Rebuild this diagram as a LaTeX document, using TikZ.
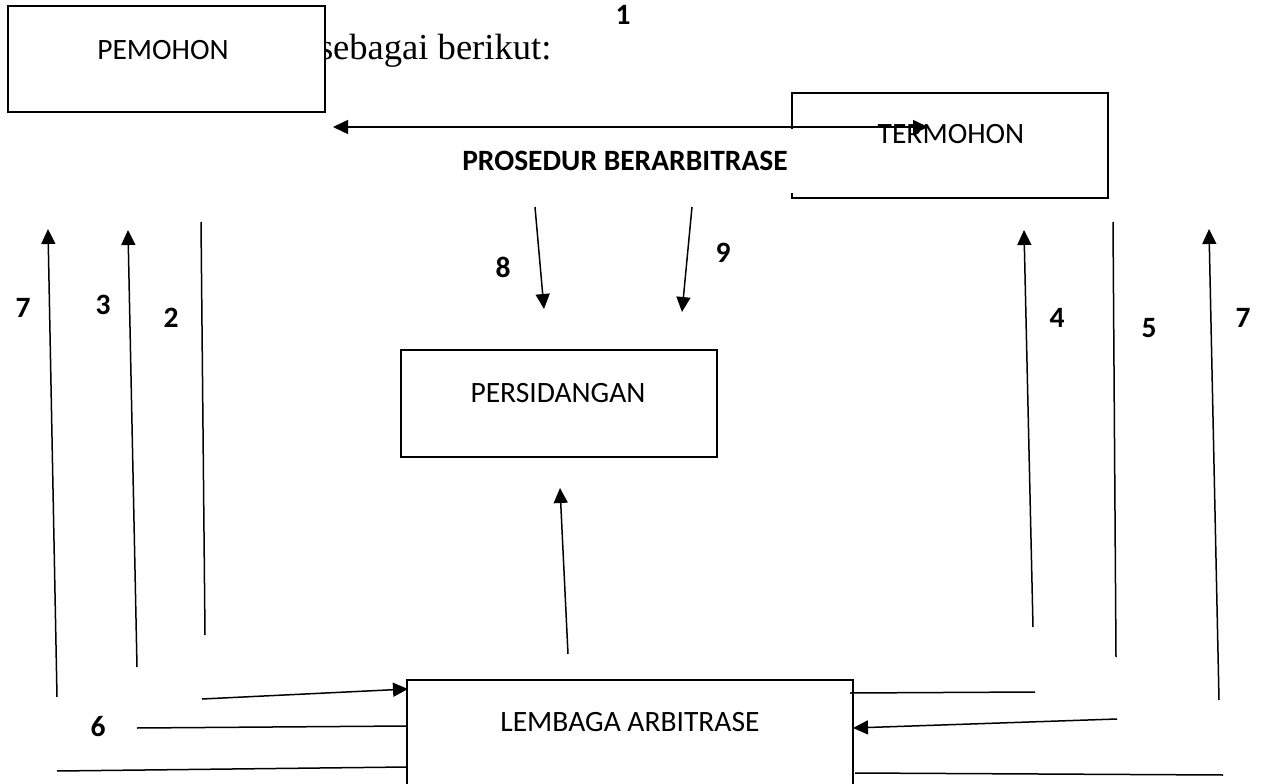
\documentclass[tikz,border=0pt]{standalone}
\usepackage{fontspec}
\setmainfont{Carlito}
\newfontfamily\timesfont{Liberation Serif}
\usetikzlibrary{arrows.meta}
\begin{document}
\begin{tikzpicture}[x=0.02cm, y=-0.02cm,
  font=\fontsize{16.8}{20}\selectfont,
  box/.style={draw, line width=0.055cm, inner sep=0pt, outer sep=0pt, fill=white},
  txt/.style={inner sep=0pt, outer sep=0pt},
  num/.style={inner sep=0pt, font=\fontsize{16.8}{20}\selectfont\bfseries},
  conn/.style={line width=0.03cm},
  tipend/.style={conn, -{Triangle[length=0.3cm,width=0.28cm]}},
  tipboth/.style={conn, {Triangle[length=0.3cm,width=0.28cm]}-{Triangle[length=0.3cm,width=0.28cm]}}]
\clip (0,0) rectangle (1262,784);
\fill[white] (0,0) rectangle (1262,784);

% background page text
\node[txt, anchor=base west, font=\timesfont\fontsize{20.8}{24}\selectfont] (bgtext) at (319,60) {sebagai berikut:};

% boxes
\node[box, minimum width=6.34cm, minimum height=2.12cm] (pem) at (166.5,59) {};
\node[txt] (pemtext) at (163,50) {PEMOHON};

\node[box, minimum width=6.32cm, minimum height=2.1cm] (ter) at (950,145.5) {};
\node[txt] (tertext) at (951,134) {TERMOHON};

\node[inner sep=0pt, fill=white, minimum width=6.8cm, minimum height=1.28cm,
      font=\fontsize{16.8}{20}\selectfont\bfseries] (pros) at (625,161) {PROSEDUR BERARBITRASE};

\node[box, minimum width=6.32cm, minimum height=2.14cm] (sid) at (559,403.5) {};
\node[txt] (sidtext) at (558,393) {PERSIDANGAN};

\node[box, minimum width=8.92cm, minimum height=2.2cm] (lem) at (630,735) {};
\node[txt] (lemtext) at (630,722) {LEMBAGA ARBITRASE};

% coordinates of free ends
\coordinate (a1l) at (333,127);
\coordinate (a1r) at (928,127);
\coordinate (a8s) at (535,207);
\coordinate (a8e) at (544,309);
\coordinate (a9s) at (692,207);
\coordinate (a9e) at (682,312);
\coordinate (aus) at (568,654);
\coordinate (aue) at (560,488);

\coordinate (l7s) at (57,697);
\coordinate (l7e) at (48,229);
\coordinate (l3s) at (137,667);
\coordinate (l3e) at (128,230);
\coordinate (l2s) at (201,222);
\coordinate (l2e) at (205,635);

\coordinate (r4s) at (1033,627);
\coordinate (r4e) at (1024,230);
\coordinate (r5s) at (1113,222);
\coordinate (r5e) at (1116,657);
\coordinate (r7s) at (1219,700);
\coordinate (r7e) at (1209,229);

\coordinate (b1s) at (202,699);
\coordinate (b1e) at (408,689);
\coordinate (b6s) at (137,728);
\coordinate (b6e) at (407,726);
\coordinate (bbs) at (57,771);
\coordinate (bbe) at (407,767);

\coordinate (c1s) at (850,693);
\coordinate (c1e) at (1035,692);
\coordinate (c2s) at (1117,719);
\coordinate (c2e) at (853,728);
\coordinate (cbs) at (855,773);
\coordinate (cbe) at (1223,775);

% connectors
\draw[tipboth] (a1l) -- (a1r);
\draw[tipend] (a8s) -- (a8e);
\draw[tipend] (a9s) -- (a9e);
\draw[tipend] (aus) -- (aue);

\draw[tipend] (l7s) -- (l7e);
\draw[tipend] (l3s) -- (l3e);
\draw[conn] (l2s) -- (l2e);

\draw[tipend] (r4s) -- (r4e);
\draw[conn] (r5s) -- (r5e);
\draw[tipend] (r7s) -- (r7e);

\draw[tipend] (b1s) -- (b1e);
\draw[conn] (b6s) -- (b6e);
\draw[conn] (bbs) -- (bbe);

\draw[conn] (c1s) -- (c1e);
\draw[tipend] (c2s) -- (c2e);
\draw[conn] (cbs) -- (cbe);

% number labels
\node[num] (n1) at (623,15) {1};
\node[num] (n8) at (503,267) {8};
\node[num] (n9) at (723,253) {9};
\node[num] (n7l) at (23,308) {7};
\node[num] (n3) at (103,305) {3};
\node[num] (n2) at (171,318) {2};
\node[num] (n4) at (1057,318) {4};
\node[num] (n5) at (1149,328) {5};
\node[num] (n7r) at (1243,318) {7};
\node[num] (n6) at (98,727) {6};
\end{tikzpicture}
\end{document}
